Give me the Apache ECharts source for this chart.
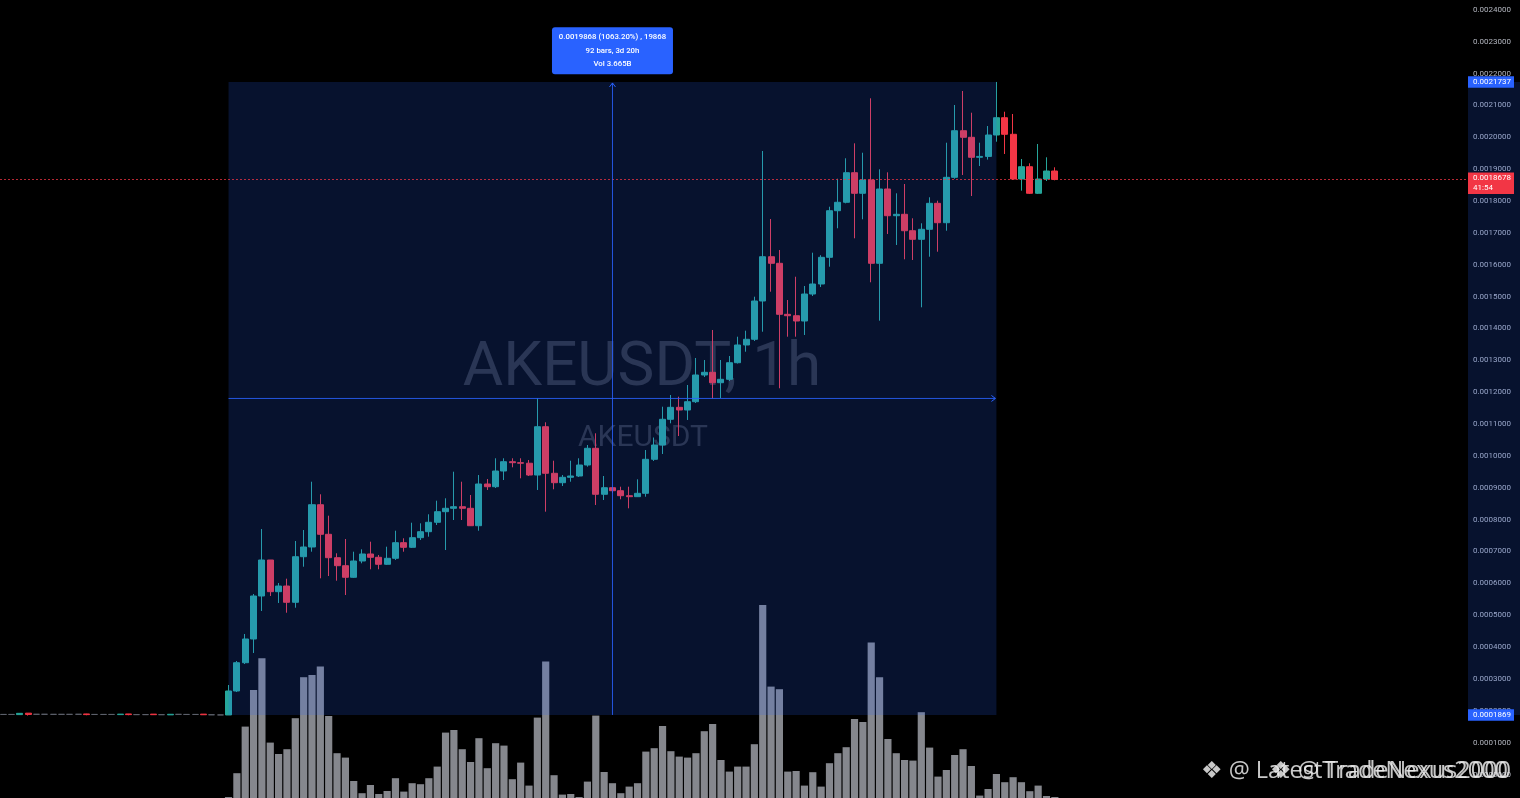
<!DOCTYPE html>
<html>
<head>
<meta charset="utf-8">
<script src="https://cdn.jsdelivr.net/npm/echarts/dist/echarts.min.js"></script>
<style>
html,body{margin:0;padding:0;background:#000;overflow:hidden;}
#c{width:1520px;height:798px;}
</style>
</head>
<body>
<div id="c"></div>
<script>
// ---- DATA (hourly candles, AKEUSDT 1h) ----
const openPrices = [
0.0001885,0.0001885,0.0001880,0.0001925,0.0001890,0.0001890,0.0001888,0.0001888,0.0001888,0.0001890,
0.0001900,0.0001885,0.0001885,0.0001885,0.0001880,0.0001900,0.0001880,0.0001880,0.0001895,0.0001878,
0.0001872,0.0001888,0.0001885,0.0001885,0.0001895,0.0001875,0.0001870,
0.0001869,0.0002621,0.0003509,0.0004253,0.0005603,0.0006733,0.0005738,0.0005916,0.0005405,0.0006836,
0.0007141,0.0008468,0.0007539,0.0006805,0.0006554,0.0006190,0.0006701,0.0006921,0.0006817,0.0006598,
0.0006786,0.0007276,0.0007131,0.0007433,0.0007621,0.0007916,0.0008249,0.0008355,0.0008405,0.0008355,
0.0007809,0.0009118,0.0009033,0.0009526,0.0009818,0.0009787,0.0009770,0.0009400,0.0010916,0.0009454,
0.0009159,0.0009328,0.0009369,0.0009714,0.0010239,0.0008795,0.0009002,0.0008908,0.0008751,0.0008720,
0.0008826,0.0009893,0.0010342,0.0011149,0.0011525,0.0011441,0.0011701,0.0012539,0.0012624,0.0012297,
0.0012404,0.0012925,0.0013481,0.0013660,0.0014862,0.0016252,0.0016045,0.0014444,0.0014400,0.0014234,
0.0015081,0.0015395,0.0016233,0.0017696,0.0017960,0.0018889,0.0018242,0.0018660,0.0016045,0.0018377,
0.0017539,0.0017583,0.0017068,0.0016798,0.0017112,0.0017928,0.0017319,0.0018744,0.0020207,0.0020000,
0.0019372,0.0019400,0.0020072,0.0020615,0.0020094,0.0018691,0.0019077,0.0018242,0.0018691,0.0018942
];
const closePrices = [
0.0001885,0.0001885,0.0001920,0.0001885,0.0001890,0.0001890,0.0001888,0.0001888,0.0001888,0.0001890,
0.0001880,0.0001885,0.0001885,0.0001885,0.0001895,0.0001880,0.0001880,0.0001880,0.0001878,0.0001878,
0.0001890,0.0001888,0.0001885,0.0001885,0.0001876,0.0001875,0.0001870,
0.0002621,0.0003509,0.0004253,0.0005603,0.0006733,0.0005738,0.0005916,0.0005405,0.0006836,0.0007141,
0.0008468,0.0007539,0.0006805,0.0006554,0.0006190,0.0006701,0.0006921,0.0006817,0.0006598,0.0006786,
0.0007276,0.0007131,0.0007433,0.0007621,0.0007916,0.0008249,0.0008355,0.0008405,0.0008355,0.0007809,
0.0009118,0.0009033,0.0009526,0.0009818,0.0009787,0.0009770,0.0009400,0.0010916,0.0009454,0.0009159,
0.0009328,0.0009369,0.0009714,0.0010239,0.0008795,0.0009002,0.0008908,0.0008751,0.0008720,0.0008826,
0.0009893,0.0010342,0.0011149,0.0011525,0.0011441,0.0011701,0.0012539,0.0012624,0.0012297,0.0012404,
0.0012925,0.0013481,0.0013660,0.0014862,0.0016252,0.0016045,0.0014444,0.0014400,0.0014234,0.0015081,
0.0015395,0.0016233,0.0017696,0.0017960,0.0018889,0.0018242,0.0018660,0.0016045,0.0018377,0.0017539,
0.0017583,0.0017068,0.0016798,0.0017112,0.0017928,0.0017319,0.0018744,0.0020207,0.0020000,0.0019372,
0.0019400,0.0020072,0.0020615,0.0020094,0.0018691,0.0019077,0.0018242,0.0018691,0.0018942,0.0018678
];
const lowPrices = [
0.0001880,0.0001880,0.0001875,0.0001850,0.0001885,0.0001885,0.0001884,0.0001884,0.0001884,0.0001885,
0.0001860,0.0001880,0.0001880,0.0001880,0.0001878,0.0001860,0.0001876,0.0001876,0.0001870,0.0001874,
0.0001870,0.0001884,0.0001880,0.0001880,0.0001870,0.0001870,0.0001866,
0.0001869,0.0002589,0.0003468,0.0003814,0.0005132,0.0005603,0.0005383,0.0005078,0.0005235,0.0006522,
0.0006993,0.0006158,0.0006230,0.0006083,0.0005634,0.0006170,0.0006629,0.0006441,0.0006441,0.0006576,
0.0006733,0.0006993,0.0007109,0.0007360,0.0007464,0.0007831,0.0007046,0.0007988,0.0007988,0.0007800,
0.0007652,0.0008930,0.0008992,0.0009243,0.0009642,0.0009297,0.0009369,0.0008930,0.0008249,0.0008952,
0.0009055,0.0009190,0.0009338,0.0009661,0.0008459,0.0008616,0.0008835,0.0008638,0.0008355,0.0008710,
0.0008719,0.0009840,0.0010060,0.0011023,0.0010624,0.0011127,0.0011660,0.0012476,0.0011808,0.0011817,
0.0012351,0.0012900,0.0013270,0.0013606,0.0013898,0.0015154,0.0012122,0.0013741,0.0013741,0.0013795,
0.0015019,0.0015300,0.0015938,0.0017144,0.0017928,0.0016830,0.0017426,0.0015449,0.0014244,0.0016965,
0.0016620,0.0016171,0.0016149,0.0014664,0.0016252,0.0016409,0.0017068,0.0018700,0.0018817,0.0018157,
0.0019099,0.0019300,0.0019862,0.0019476,0.0018660,0.0018324,0.0018220,0.0018220,0.0018628,0.0018650
];
const highPrices = [
0.0001890,0.0001890,0.0001930,0.0001930,0.0001895,0.0001895,0.0001892,0.0001892,0.0001892,0.0001895,
0.0001905,0.0001890,0.0001890,0.0001890,0.0001898,0.0001902,0.0001884,0.0001884,0.0001898,0.0001882,
0.0001892,0.0001892,0.0001890,0.0001890,0.0001898,0.0001880,0.0001874,
0.0002809,0.0003562,0.0004410,0.0005665,0.0007705,0.0006733,0.0006011,0.0006146,0.0007329,0.0007674,
0.0009190,0.0008795,0.0008123,0.0006943,0.0007392,0.0006993,0.0007068,0.0007307,0.0006890,0.0007150,
0.0007652,0.0007414,0.0007903,0.0007884,0.0008167,0.0008594,0.0008669,0.0009504,0.0009190,0.0008773,
0.0009400,0.0009275,0.0009925,0.0009925,0.0009925,0.0009925,0.0009871,0.0011808,0.0011055,0.0009849,
0.0009400,0.0009849,0.0009925,0.0010342,0.0010709,0.0009369,0.0009024,0.0009033,0.0009033,0.0009265,
0.0010185,0.0010577,0.0011544,0.0011911,0.0011858,0.0012225,0.0013073,0.0013010,0.0013952,0.0013010,
0.0013135,0.0013741,0.0013930,0.0014997,0.0019570,0.0017435,0.0016463,0.0014893,0.0015624,0.0015333,
0.0016378,0.0016300,0.0017821,0.0018700,0.0019341,0.0019811,0.0019516,0.0021224,0.0018995,0.0018901,
0.0018242,0.0018534,0.0017458,0.0017301,0.0018117,0.0018010,0.0019830,0.0021014,0.0021453,0.0020772,
0.0019830,0.0020354,0.0021737,0.0020803,0.0020731,0.0019319,0.0019184,0.0019790,0.0019372,0.0019058
];
// volume, millions
const volumeM = [
0,0,0,0,0,0,0,0,0,0,0,0,0,0,0,0,0,0,0,0,0,0,0,0,0,0,0,
0.5,12.4,35.7,54,69.9,27.7,22,24.4,39.9,60.4,
61.5,65.7,41,22.4,20.2,8.5,2.4,6.5,2,3.5,
9.9,3.2,7.4,6.9,9.9,15.7,32.7,34,24.4,18,
29.9,14.9,27.4,26.2,9.4,17.7,6.2,40.2,68.2,11.4,
1.7,2,0.5,8.2,41.2,13,7.4,2.4,5.7,7.4,
23.2,24.9,36,23.4,20.7,20.2,22.4,33.4,37,19,
13.2,15.7,15.7,26.9,96.5,55.7,54.4,13.2,13.5,6.2,
12.9,5.7,17.4,22.4,25.4,39.5,38,77.7,60.4,29.5,
22.4,19,18.7,42.9,25.2,10.7,14,21.5,24.4,16,
1.2,4.5,12,7.9,10.4,7.9,3.4,6.2,1,0.5
];
const slotCount = 176;            // visible hourly slots
const measureStartIndex = 27;     // measure tool start bar
const measureEndIndex = 119;      // measure tool end bar (92 bars)
const measureHigh = 0.0021737;
const measureLow = 0.0001869;
const measureLines = ['0.0019868 (1063.20%) , 19868', '92 bars, 3d 20h', 'Vol 3.665B'];
const countdownText = '41:54';
const symbolText = 'AKEUSDT, 1h';
const symbolSubText = 'AKEUSDT';
const creditTexts = ['\u2756 @ LatestTradeNexus2000', '\u2756 @ TradeNexus2000'];

const UP = '#26a69a', DOWN = '#f23645';
const startMs = Date.UTC(2025, 0, 10, 0);
const categories = Array.from({length: slotCount}, (_, k) => {
  const d = new Date(startMs + k * 3600000);
  return (d.getUTCMonth() + 1) + '-' + d.getUTCDate() + ' ' + String(d.getUTCHours()).padStart(2, '0') + ':00';
});
const candles = openPrices.map((o, k) => [o, closePrices[k], lowPrices[k], highPrices[k]]);
const lastPrice = closePrices[closePrices.length - 1];

const chart = echarts.init(document.getElementById('c'), null, {renderer: 'canvas'});

function overlay(params, api) {
  const cs = params.coordSys;
  const a = api.coord([api.value(0), api.value(2)]);
  const b = api.coord([api.value(1), api.value(3)]);
  const lp = api.coord([api.value(0), api.value(4)]);
  const x0 = a[0], y0 = a[1], x1 = b[0], y1 = b[1];
  const mx = (x0 + x1) / 2, my = (y0 + y1) / 2;
  const axisX = cs.x + cs.width;
  const W = api.getWidth();
  const blue = '#2962ff';
  const fillBox = 'rgba(41,98,255,0.18)';
  const lblW = 46;
  return {
    type: 'group',
    children: [
      {type: 'rect', shape: {x: x0, y: y0, width: x1 - x0, height: y1 - y0}, style: {fill: fillBox}},
      {type: 'rect', shape: {x: axisX, y: y0, width: W - axisX, height: y1 - y0}, style: {fill: fillBox}},
      {type: 'line', shape: {x1: 0, y1: Math.round(lp[1]) + 0.5, x2: axisX, y2: Math.round(lp[1]) + 0.5}, style: {stroke: '#f23645', opacity: 0.75, lineWidth: 1, lineDash: [2, 2]}},
      {type: 'line', shape: {x1: mx, y1: y1, x2: mx, y2: y0 + 1}, style: {stroke: blue, lineWidth: 1, opacity: 0.85}},
      {type: 'polyline', shape: {points: [[mx - 3, y0 + 5], [mx, y0 + 1], [mx + 3, y0 + 5]]}, style: {stroke: blue, fill: 'none', lineWidth: 1}},
      {type: 'line', shape: {x1: x0, y1: my, x2: x1 - 1, y2: my}, style: {stroke: blue, lineWidth: 1, opacity: 0.85}},
      {type: 'polyline', shape: {points: [[x1 - 5, my - 3], [x1 - 1, my], [x1 - 5, my + 3]]}, style: {stroke: blue, fill: 'none', lineWidth: 1}},
      {type: 'rect', shape: {x: mx - 60.5, y: y0 - 54.6, width: 121, height: 47, r: 3}, style: {fill: blue}},
      {type: 'text', style: {text: measureLines.join('\n'), x: mx, y: y0 - 31, align: 'center', verticalAlign: 'middle', textAlign: 'center', textVerticalAlign: 'middle', fill: '#ffffff', fontSize: 7.8, fontFamily: 'Roboto', fontWeight: 500, lineHeight: 13.5}},
      {type: 'rect', shape: {x: axisX, y: y0 - 5.7, width: lblW, height: 11.4}, style: {fill: blue}},
      {type: 'text', style: {text: measureHigh.toFixed(7), x: axisX + 5, y: y0, align: 'left', verticalAlign: 'middle', textVerticalAlign: 'middle', fill: '#fff', fontSize: 8, fontFamily: 'Roboto'}},
      {type: 'rect', shape: {x: axisX, y: y1 - 5.7, width: lblW, height: 11.4}, style: {fill: blue}},
      {type: 'text', style: {text: measureLow.toFixed(7), x: axisX + 5, y: y1, align: 'left', verticalAlign: 'middle', textVerticalAlign: 'middle', fill: '#fff', fontSize: 8, fontFamily: 'Roboto'}},
      {type: 'rect', shape: {x: axisX, y: lp[1] - 7, width: lblW, height: 21.5}, style: {fill: DOWN}},
      {type: 'text', style: {text: lastPrice.toFixed(7) + '\n' + countdownText, x: axisX + 5, y: lp[1] + 3.8, align: 'left', verticalAlign: 'middle', textVerticalAlign: 'middle', fill: '#fff', fontSize: 8, fontFamily: 'Roboto', lineHeight: 9.5}}
    ]
  };
}

chart.setOption({
  backgroundColor: '#000000',
  animation: false,
  grid: [
    {left: -1, right: 52, top: -22, bottom: -8.36, outerBoundsMode: 'none', containLabel: false},
    {left: -1, right: 52, top: 0, bottom: 0, outerBoundsMode: 'none', containLabel: false}
  ],
  xAxis: [
    {type: 'category', data: categories, gridIndex: 0, boundaryGap: true, show: false},
    {type: 'category', data: categories, gridIndex: 1, boundaryGap: true, show: false}
  ],
  yAxis: [
    {type: 'value', gridIndex: 0, position: 'right', min: -0.0001, max: 0.0025, interval: 0.0001,
     axisLine: {show: false}, axisTick: {show: false}, splitLine: {show: false},
     axisLabel: {color: '#b2b5be', fontSize: 8, fontFamily: 'Roboto', margin: 5, formatter: v => v.toFixed(7)}},
    {type: 'value', gridIndex: 1, min: 0, max: 399, show: false, splitLine: {show: false}}
  ],
  graphic: [
    {type: 'text', x: 642, y: 369, z: 0, silent: true,
     style: {text: symbolText, fill: 'rgba(125,128,142,0.34)', fontSize: 62, fontFamily: 'Roboto', align: 'center', verticalAlign: 'middle', textAlign: 'center', textVerticalAlign: 'middle'}},
    {type: 'text', x: 643, y: 438, z: 0, silent: true,
     style: {text: symbolSubText, fill: 'rgba(125,128,142,0.34)', fontSize: 30, fontFamily: 'Roboto', align: 'center', verticalAlign: 'middle', textAlign: 'center', textVerticalAlign: 'middle'}},
    {type: 'text', x: 1508, y: 771, z: 100, silent: true,
     style: {text: creditTexts[0], fill: 'rgba(235,235,235,0.85)', fontSize: 23.5, fontFamily: 'Open Sans', align: 'right', verticalAlign: 'middle', textAlign: 'right', textVerticalAlign: 'middle'}},
    {type: 'text', x: 1511, y: 771, z: 100, silent: true,
     style: {text: creditTexts[1], fill: 'rgba(235,235,235,0.85)', fontSize: 23.5, fontFamily: 'Open Sans', align: 'right', verticalAlign: 'middle', textAlign: 'right', textVerticalAlign: 'middle'}}
  ],
  series: [
    {type: 'bar', name: 'Volume', xAxisIndex: 1, yAxisIndex: 1, data: volumeM, barWidth: '86%', z: 1,
     itemStyle: {color: '#85878d'}, silent: true},
    {type: 'candlestick', name: 'AKEUSDT', xAxisIndex: 0, yAxisIndex: 0, data: candles, barWidth: '78%', z: 2,
     itemStyle: {color: UP, color0: DOWN, borderColor: UP, borderColor0: DOWN, borderColorDoji: '#5d606b', borderWidth: 1}},
    {type: 'custom', name: 'measure', xAxisIndex: 0, yAxisIndex: 0, z: 10, silent: true, clip: false,
     encode: {x: [0, 1], y: [2, 3, 4]},
     data: [[measureStartIndex, measureEndIndex, measureHigh, measureLow, lastPrice]],
     renderItem: overlay}
  ]
});
</script>
</body>
</html>
